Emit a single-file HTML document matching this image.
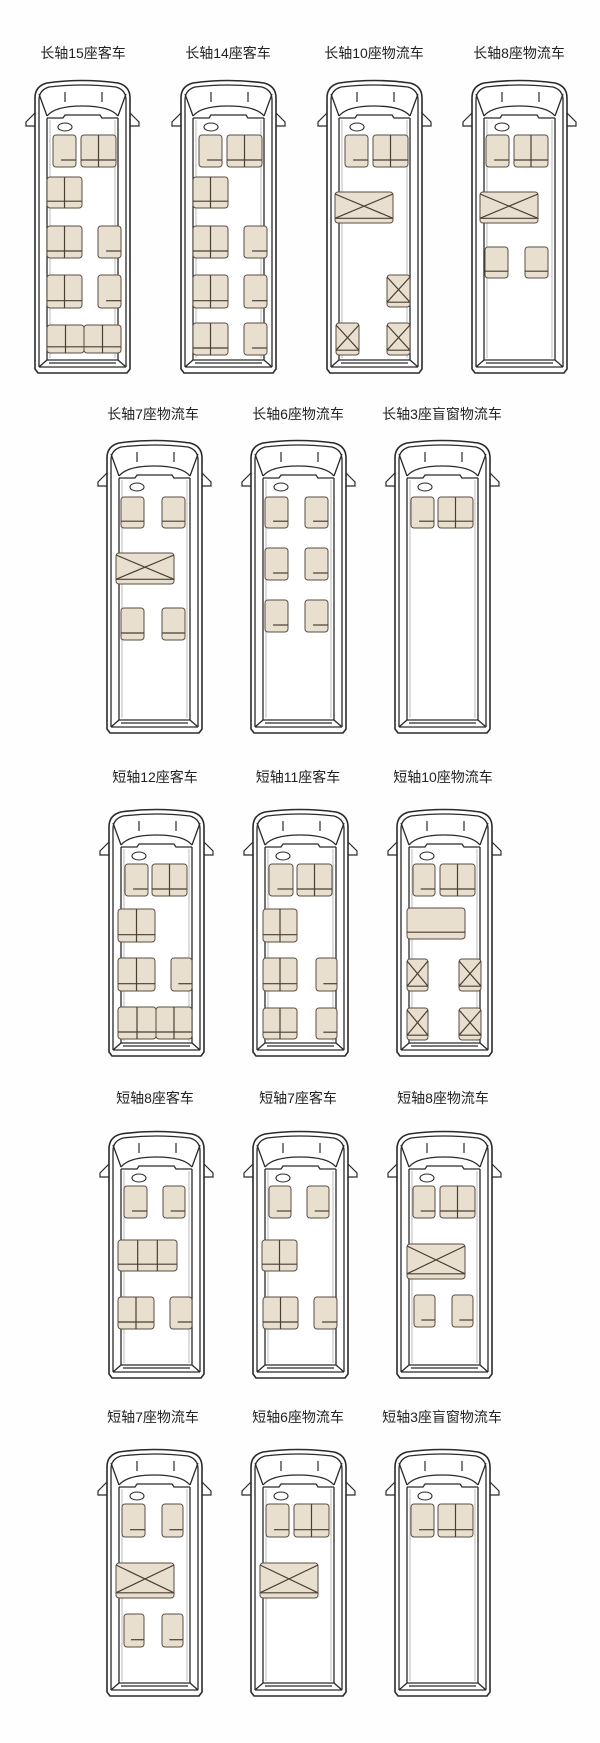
<!DOCTYPE html>
<html><head><meta charset="utf-8">
<style>
html,body{margin:0;padding:0;background:#fefefe;}
#wrap{position:relative;width:600px;height:1743px;overflow:hidden;background:#fefefe;}
.lb{position:absolute;font-family:"Liberation Sans","Noto Sans CJK SC",sans-serif;font-size:14px;color:#222;white-space:nowrap;transform:translateX(-50%);line-height:16px;}
svg{position:absolute;left:0;top:0;}
</style></head><body>
<div id="wrap">
<svg id="s" width="600" height="1743" viewBox="0 0 600 1743"></svg>
<div class="lb" style="left:83px;top:45px">长轴15座客车</div>
<div class="lb" style="left:228px;top:45px">长轴14座客车</div>
<div class="lb" style="left:374px;top:45px">长轴10座物流车</div>
<div class="lb" style="left:519px;top:45px">长轴8座物流车</div>
<div class="lb" style="left:153px;top:406px">长轴7座物流车</div>
<div class="lb" style="left:298px;top:406px">长轴6座物流车</div>
<div class="lb" style="left:442px;top:406px">长轴3座盲窗物流车</div>
<div class="lb" style="left:155px;top:769px">短轴12座客车</div>
<div class="lb" style="left:298px;top:769px">短轴11座客车</div>
<div class="lb" style="left:443px;top:769px">短轴10座物流车</div>
<div class="lb" style="left:155px;top:1090px">短轴8座客车</div>
<div class="lb" style="left:298px;top:1090px">短轴7座客车</div>
<div class="lb" style="left:443px;top:1090px">短轴8座物流车</div>
<div class="lb" style="left:153px;top:1409px">短轴7座物流车</div>
<div class="lb" style="left:298px;top:1409px">短轴6座物流车</div>
<div class="lb" style="left:442px;top:1409px">短轴3座盲窗物流车</div>
</div>
<script>
var L=293,Sh=247;
var vans=[
{x:35,y:80,H:L,s:[['S',18,55,41,87],['D',46,55,81,87],['D',12,97,47,128],['D',12,146,47,178],['S',63,146,86,178],['D',12,195,47,228],['S',63,195,86,228],['D',12,245,49,273],['D',49,245,86,273]]},
{x:181,y:80,H:L,s:[['S',18,55,41,87],['D',46,55,81,87],['D',12,97,47,128],['D',12,146,47,178],['S',63,146,86,178],['D',12,195,47,228],['S',63,195,86,228],['D',12,243,47,275],['S',63,243,86,275]]},
{x:327,y:80,H:L,s:[['S',18,55,41,87],['D',46,55,81,87],['X',8,112,66,143],['X',60,195,83,227],['X',9,243,32,275],['X',60,243,83,275]]},
{x:472,y:80,H:L,s:[['S',14,55,37,87],['D',42,55,76,87],['X',8,112,66,143],['F',13,167,36,198],['F',53,167,76,198]]},
{x:107,y:440,H:L,s:[['F',14,57,37,88],['F',55,57,78,88],['X',9,113,67,144],['F',14,168,37,200],['F',55,168,78,200]]},
{x:251,y:440,H:L,s:[['S',14,57,37,88],['S',54,57,77,88],['S',14,108,37,140],['S',54,108,77,140],['S',14,160,37,192],['S',54,160,77,192]]},
{x:395,y:440,H:L,s:[['S',16,57,39,88],['D',43,57,78,88]]},
{x:109,y:809,H:Sh,s:[['S',16,55,39,87],['D',43,55,78,87],['D',9,100,46,133],['D',9,149,46,182],['S',62,149,83,182],['D',9,198,47,230],['D',47,198,83,230]]},
{x:253,y:809,H:Sh,s:[['S',16,55,40,87],['D',44,55,79,87],['D',10,100,44,133],['D',10,149,44,182],['S',63,149,84,182],['D',10,199,44,230],['S',63,199,84,230]]},
{x:397,y:809,H:Sh,s:[['S',16,55,38,87],['D',43,55,78,87],['B',10,99,68,130],['X',10,150,31,182],['X',62,150,84,182],['X',10,199,31,231],['X',62,199,84,231]]},
{x:109,y:1131,H:Sh,s:[['S',15,55,38,87],['S',54,55,76,87],['T',9,109,68,140],['D',9,166,45,198],['S',61,166,83,198]]},
{x:253,y:1131,H:Sh,s:[['S',16,55,38,87],['S',54,55,76,87],['D',9,109,44,140],['D',10,166,45,198],['S',61,166,84,198]]},
{x:397,y:1131,H:Sh,s:[['S',16,55,38,87],['D',43,55,78,87],['X',10,113,68,148],['S',17,164,38,196],['S',55,164,76,196]]},
{x:107,y:1449,H:Sh,s:[['S',15,55,38,88],['S',55,55,76,88],['X',9,114,67,149],['S',17,165,37,198],['S',55,165,76,198]]},
{x:251,y:1449,H:Sh,s:[['S',15,55,38,88],['D',43,55,78,88],['X',9,114,67,149]]},
{x:395,y:1449,H:Sh,s:[['S',16,55,39,88],['D',43,55,78,88]]}
];
var out='';
var ST='stroke="#2a2a2a" stroke-width="1.3" fill="none"';
function ln(a,b,c,d,st){return '<line x1="'+a+'" y1="'+b+'" x2="'+c+'" y2="'+d+'" '+(st||'stroke="#4a3f35" stroke-width="1.2"')+'/>';}
vans.forEach(function(v){
 var H=v.H,g='<g transform="translate('+v.x+','+v.y+')">';
 // mirrors
 g+='<path d="M0,33 L-9,42 L-9,46 L0,46" fill="#fff" stroke="#2a2a2a" stroke-width="1.2"/>';
 g+='<path d="M95,33 L104,42 L104,46 L95,46" fill="#fff" stroke="#2a2a2a" stroke-width="1.2"/>';
 // outer body
 g+='<path d="M0,18 Q0,6 12,3 Q47,-2 83,3 Q95,6 95,18 L95,'+(H-4)+' L92,'+H+' L3,'+H+' L0,'+(H-4)+' Z" fill="#fff" stroke="#2a2a2a" stroke-width="1.6"/>';
 g+='<path d="M4,'+(H-6)+' L4,20 Q4,10 14,7 Q47,3 81,7 Q91,10 91,20 L91,'+(H-6)+'" '+ST+'/>';
 // wipers
 g+=ln(30,12,30,22,'stroke="#2a2a2a" stroke-width="1.2"')+ln(67,12,67,22,'stroke="#2a2a2a" stroke-width="1.2"');
 // windshield/hood
 g+='<path d="M4,14 L12,36 M91,14 L83,36 M12,36 Q20,26 47,26 Q75,26 83,36" '+ST+'/>';
 g+='<path d="M12,38 L28,38 L30,35 L65,35 L67,38 L83,38" '+ST+'/>';
 // cabin
 g+='<path d="M12,38 L12,'+(H-13)+' L83,'+(H-13)+' L83,38" '+ST+'/>';
 g+='<path d="M15,40 L15,'+(H-15)+' M80,40 L80,'+(H-15)+'" stroke="#aaa" stroke-width="0.8" fill="none"/>';
 // bottom
 g+='<path d="M12,'+(H-13)+' L4,'+(H-6)+' M83,'+(H-13)+' L91,'+(H-6)+' M4,'+(H-6)+' L91,'+(H-6)+' M14,'+(H-10)+' L81,'+(H-10)+'" '+ST+'/>';
 // steering oval
 g+='<ellipse cx="30" cy="47" rx="7" ry="4" fill="#fff" stroke="#2a2a2a" stroke-width="1.1"/>';
 v.s.forEach(function(s){
  var t=s[0],x1=s[1],y1=s[2],x2=s[3],y2=s[4],w=x2-x1,h=y2-y1,hy=(y2-h*0.22).toFixed(1);
  g+='<rect x="'+x1+'" y="'+y1+'" width="'+w+'" height="'+h+'" rx="3" fill="#e8dfcf" stroke="#5a4e43" stroke-width="1"/>';
  if(t=='S'){g+=ln(x1+w*0.35,hy,x2,hy);}
  if(t=='F'){g+=ln(x1,hy,x2,hy);}
  if(t=='B'){g+=ln(x1,hy,x2,hy);}
  if(t=='D'){g+=ln(x1+w/2,y1,x1+w/2,y2)+ln(x1,hy,x2,hy);}
  if(t=='T'){g+=ln(x1+w/3,y1,x1+w/3,y2)+ln(x1+2*w/3,y1,x1+2*w/3,y2)+ln(x1,hy,x2,hy);}
  if(t=='X'){var by=(y2-h*0.15).toFixed(1);g+=ln(x1,y1+2,x2,by)+ln(x2,y1+2,x1,by)+ln(x1,by,x2,by);}
 });
 g+='</g>';
 out+=g;
});
document.getElementById('s').innerHTML=out;
</script>
</body></html>
